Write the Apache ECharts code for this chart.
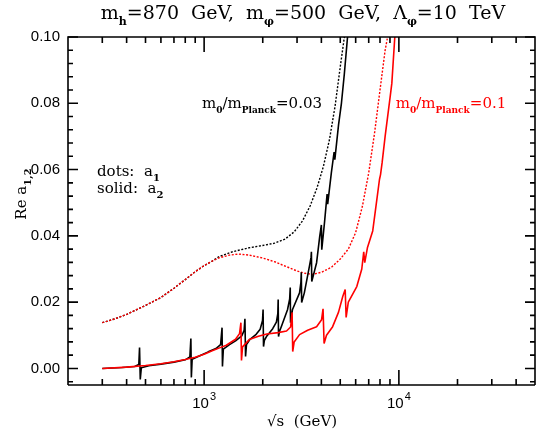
<!DOCTYPE html>
<html><head><meta charset="utf-8">
<script src="https://cdn.jsdelivr.net/npm/echarts@6/dist/echarts.min.js"></script>
<style>html,body{margin:0;padding:0;background:#fff}#c{width:539px;height:436px}</style>
</head><body><div id="c"></div>
<script>
// ---- axis ranges and ticks ----
const xMin = 200, xMax = 50000, yMin = -0.005, yMax = 0.1;
const xMajorTicks = [1000, 10000];
const xMajorExp = ['3', '4'];
const xMinorTicks = [300, 400, 500, 600, 700, 800, 900, 2000, 3000, 4000, 5000, 6000, 7000, 8000, 9000, 20000, 30000, 40000];
const yMajorTicks = [0, 0.02, 0.04, 0.06, 0.08, 0.1];
const yMinorTicks = [-0.004, 0.004, 0.008, 0.012, 0.016, 0.024, 0.028, 0.032, 0.036, 0.044, 0.048, 0.052, 0.056,
  0.064, 0.068, 0.072, 0.076, 0.084, 0.088, 0.092, 0.096];

// ---- data: [sqrt(s) GeV, Re a] ----
const a1_003 = [[300,0.0138],[350,0.0150],[400,0.0163],[500,0.0190],[600,0.0214],[700,0.0242],[800,0.0268],[900,0.0292],
  [1000,0.0310],[1100,0.0324],[1200,0.0338],[1400,0.0352],[1700,0.0364],[2000,0.0371],[2300,0.0378],[2600,0.0390],
  [2900,0.0412],[3200,0.0445],[3500,0.0490],[3800,0.0545],[4100,0.0610],[4400,0.0690],[4700,0.0790],[5000,0.0910],[5250,0.1000]];
const a1_01 = [[300,0.0138],[350,0.0150],[400,0.0163],[500,0.0190],[600,0.0214],[700,0.0242],[800,0.0268],[900,0.0292],
  [1000,0.0310],[1100,0.0324],[1200,0.0334],[1350,0.0342],[1500,0.0345],[1700,0.0342],[2000,0.0333],[2300,0.0322],
  [2600,0.0309],[3000,0.0294],[3300,0.0287],[3600,0.0284],[4000,0.0290],[4500,0.0305],[5000,0.0330],[5500,0.0360],
  [6000,0.0410],[6500,0.0490],[7000,0.0590],[7500,0.0710],[8000,0.0840],[8500,0.0960],[8750,0.1000]];
const a2_003 = [[300,0.0000],[380,0.0003],[440,0.0006],[462,0.0012],[466,0.0063],[470,-0.0033],[476,0.0002],[520,0.0008],
  [600,0.0013],[700,0.0019],[800,0.0026],[845,0.0035],[855,0.0090],[860,-0.0027],[868,0.0028],[950,0.0038],[1050,0.0050],
  [1150,0.0060],[1215,0.0072],[1236,0.0123],[1242,0.0006],[1255,0.0058],[1350,0.0072],[1450,0.0083],[1560,0.0098],
  [1605,0.0115],[1620,0.0150],[1632,0.0036],[1650,0.0072],[1720,0.0088],[1850,0.0103],[1940,0.0118],[1995,0.0145],
  [2008,0.0178],[2018,0.0066],[2040,0.0085],[2090,0.0096],[2250,0.0120],[2350,0.0140],[2390,0.0165],[2400,0.0208],
  [2410,0.0096],[2440,0.0112],[2490,0.0126],[2680,0.0177],[2750,0.0210],[2768,0.0244],[2778,0.0138],[2840,0.0177],
  [3090,0.0228],[3140,0.0260],[3155,0.0290],[3168,0.0199],[3270,0.0228],[3470,0.0307],[3540,0.0335],[3555,0.0352],
  [3570,0.0262],[3780,0.0319],[3920,0.0397],[4000,0.0433],[4018,0.0358],[4150,0.0440],[4280,0.0526],[4310,0.0496],
  [4500,0.0590],[4650,0.0653],[4690,0.0630],[4900,0.0735],[5070,0.0800],[5100,0.0800],[5250,0.0890],[5450,0.1000]];
const a2_01 = [[300,0.0000],[400,0.0004],[500,0.0009],[600,0.0014],[700,0.0020],[800,0.0027],[900,0.0034],[1000,0.0043],
  [1100,0.0053],[1200,0.0062],[1300,0.0070],[1450,0.0088],[1520,0.0105],[1545,0.0138],[1555,0.0024],[1575,0.0065],
  [1705,0.0087],[1900,0.0097],[2100,0.0104],[2400,0.0108],[2650,0.0113],[2780,0.0125],[2830,0.0169],[2850,0.0051],
  [2900,0.0080],[3090,0.0102],[3400,0.0115],[3780,0.0126],[4010,0.0147],[4080,0.0180],[4130,0.0075],[4250,0.0100],
  [4570,0.0126],[4900,0.0170],[5150,0.0217],[5300,0.0238],[5360,0.0154],[5500,0.0200],[6080,0.0247],[6450,0.0300],
  [6600,0.0352],[6680,0.0319],[6900,0.0365],[7340,0.0415],[7700,0.0508],[7950,0.0570],[8050,0.0585],[8200,0.0620],
  [8500,0.0700],[9000,0.0815],[9200,0.0860],[9530,0.1000]];

const serif = '"DejaVu Serif", serif';
const sans = '"Liberation Sans", Arial, sans-serif';

// grid layout (px)
const G = {left: 68, right: 4, top: 37, bottom: 51, w: 539 - 68 - 4, h: 436 - 37 - 51};
function pxX(v) { return G.left + (Math.log10(v) - Math.log10(xMin)) / (Math.log10(xMax) - Math.log10(xMin)) * G.w; }
function pxY(v) { return G.top + (yMax - v) / (yMax - yMin) * G.h; }

function richSet(color, big, small) {
  return {
    n: {fontFamily: serif, fontSize: big, color: color, fill: color, lineHeight: big + 8, verticalAlign: 'middle'},
    s: {fontFamily: serif, fontSize: small, fontWeight: 'bold', color: color, fill: color, lineHeight: small + 2, verticalAlign: 'bottom'}
  };
}

const labels = [
  {type: 'text', x: 303, y: 14, style: {
    text: '{n|m}{s|h}{n|=870  GeV,  m}{s|φ}{n|=500  GeV,  Λ}{s|φ}{n|=10  TeV}',
    rich: richSet('#000', 19, 11), align: 'center', verticalAlign: 'middle'}},
  {type: 'text', x: 262, y: 104, style: {
    text: '{n|m}{s|0}{n|/m}{s|Planck}{n|=0.03}', rich: richSet('#000', 15, 9), align: 'center', verticalAlign: 'middle'}},
  {type: 'text', x: 451, y: 104, style: {
    text: '{n|m}{s|0}{n|/m}{s|Planck}{n|=0.1}', rich: richSet('#ff0000', 15, 9), align: 'center', verticalAlign: 'middle'}},
  {type: 'text', x: 97, y: 172, style: {
    text: '{n|dots:  a}{s|1}', rich: richSet('#000', 15, 10), align: 'left', verticalAlign: 'middle'}},
  {type: 'text', x: 97, y: 189, style: {
    text: '{n|solid:  a}{s|2}', rich: richSet('#000', 15, 10), align: 'left', verticalAlign: 'middle'}},
  {type: 'text', x: 22, y: 194, rotation: Math.PI / 2, style: {
    text: '{n|Re a}{s|1,2}', rich: richSet('#000', 15, 10), align: 'center', verticalAlign: 'middle'}},
  {type: 'text', x: 302, y: 422, style: {
    text: '√s  (GeV)', font: '15px ' + serif, fill: '#000', align: 'center', verticalAlign: 'middle'}}
];

// frame with ticks: one zigzag polyline per side, running along the frame edge
const allX = xMinorTicks.map(v => [v, 6]).concat(xMajorTicks.map(v => [v, 15])).sort((a, b) => a[0] - b[0]);
const allY = yMinorTicks.map(v => [v, 5]).concat(yMajorTicks.map(v => [v, 10])).sort((a, b) => a[0] - b[0]);
const L = G.left, R = G.left + G.w, T = G.top, B = G.top + G.h;
const bottomPts = [[L, B]], topPts = [[L, T]], leftPts = [[L, B]], rightPts = [[R, B]];
allX.forEach(([v, len]) => {
  const x = pxX(v);
  bottomPts.push([x, B], [x, B - len], [x, B]);
  topPts.push([x, T], [x, T + len], [x, T]);
});
allY.forEach(([v, len]) => {
  const y = pxY(v);
  leftPts.push([L, y], [L + len, y], [L, y]);
  rightPts.push([R, y], [R - len, y], [R, y]);
});
bottomPts.push([R, B]); topPts.push([R, T]); leftPts.push([L, T]); rightPts.push([R, T]);
const frame = [bottomPts, topPts, leftPts, rightPts].map(pts => ({
  type: 'polyline', z: 100, silent: true, shape: {points: pts},
  style: {fill: null, stroke: '#000', lineWidth: 1.6, lineJoin: 'miter'}
}));

const chart = echarts.init(document.getElementById('c'), null, {renderer: 'canvas'});
chart.setOption({
  animation: false,
  backgroundColor: '#fff',
  grid: {left: G.left, right: G.right, top: G.top, bottom: G.bottom, show: false, containLabel: false},
  xAxis: {
    type: 'log', logBase: 10, min: xMin, max: xMax,
    axisLine: {show: false, onZero: false}, axisTick: {show: false}, splitLine: {show: false}, minorTick: {show: false},
    axisLabel: {
      show: true, customValues: xMajorTicks, margin: 6, color: '#000',
      formatter: function (v) { const i = xMajorTicks.indexOf(v); return '{b|10}{e|' + (i >= 0 ? xMajorExp[i] : '') + '}'; },
      rich: {
        b: {fontFamily: sans, fontSize: 15, color: '#000', lineHeight: 20, verticalAlign: 'bottom'},
        e: {fontFamily: sans, fontSize: 11, color: '#000', lineHeight: 20, verticalAlign: 'top', padding: [0, 0, 0, 1]}
      }
    }
  },
  yAxis: {
    type: 'value', min: yMin, max: yMax,
    axisLine: {show: false, onZero: false}, axisTick: {show: false}, splitLine: {show: false}, minorTick: {show: false},
    axisLabel: {show: true, customValues: yMajorTicks, margin: 8, color: '#000', fontFamily: sans, fontSize: 15,
      formatter: function (v) { return v.toFixed(2); }}
  },
  series: [
    {type: 'line', data: a1_003, showSymbol: false, lineStyle: {color: '#000', width: 1.4, type: [2, 1.6]}, z: 2},
    {type: 'line', data: a1_01, showSymbol: false, lineStyle: {color: '#ff0000', width: 1.4, type: [2, 1.6]}, z: 3},
    {type: 'line', data: a2_003, showSymbol: false, lineStyle: {color: '#000', width: 1.6}, z: 4},
    {type: 'line', data: a2_01, showSymbol: false, lineStyle: {color: '#ff0000', width: 1.6}, z: 5}
  ],
  graphic: labels.concat(frame)
});
</script>
</body></html>
